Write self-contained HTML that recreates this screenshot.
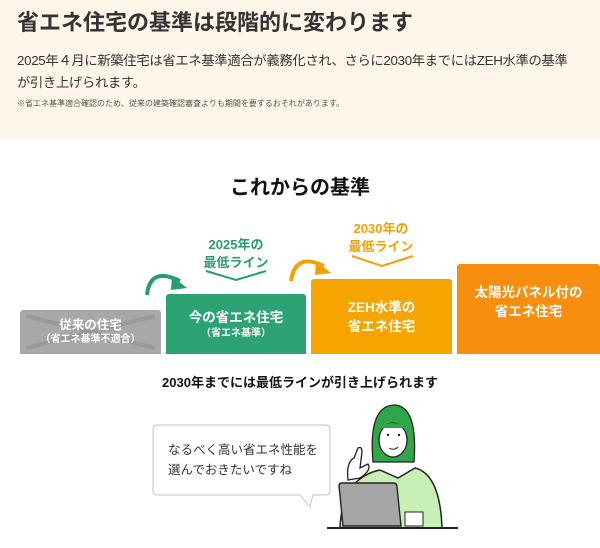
<!DOCTYPE html>
<html><head><meta charset="utf-8"><style>
*{margin:0;padding:0;box-sizing:border-box}
body{width:600px;height:548px;position:relative;overflow:hidden;background:#fff;font-family:"Liberation Sans","Noto Sans CJK JP",sans-serif;color:#222}
.a{position:absolute;white-space:nowrap}
.top{position:absolute;left:0;top:0;width:600px;height:140px;background:#fff6ea}
.box{position:absolute;color:#fff;font-weight:bold;text-align:center;display:flex;flex-direction:column;justify-content:center;align-items:center;border-radius:3px 3px 0 0;font-size:13.5px;line-height:19px}
.box small{font-size:10px;line-height:14px}
.lbl{position:absolute;font-weight:bold;font-size:13px;line-height:18px;text-align:center}
</style></head><body>
<div class="top"></div>
<div class="a" style="left:17px;top:5px;font-size:22px;font-weight:bold;color:#333">省エネ住宅の基準は段階的に変わります</div>
<div class="a" style="left:17px;top:50px;font-size:13.3px;line-height:22px;color:#333;letter-spacing:-0.3px">2025年４月に新築住宅は省エネ基準適合が義務化され、さらに2030年までにはZEH水準の基準<br>が引き上げられます。</div>
<div class="a" style="left:17px;top:98px;font-size:8px;color:#555">※省エネ基準適合確認のため、従来の建築確認審査よりも期間を要するおそれがあります。</div>
<div class="a" style="left:0;width:600px;text-align:center;top:171px;font-size:20px;font-weight:bold;color:#111">これからの基準</div>

<div class="lbl" style="left:196px;top:236px;width:80px;color:#2a9d6e">2025年の<br>最低ライン</div>
<div class="lbl" style="left:341px;top:220px;width:80px;color:#f2a100">2030年の<br>最低ライン</div>

<svg class="a" style="left:0;top:0" width="600" height="548">
<polyline points="206,271 236,280 266,271" fill="none" stroke="#2a9d6e" stroke-width="2"/>
<polyline points="352,256 382,266 413,256" fill="none" stroke="#f2a100" stroke-width="2"/>
<path d="M147,295 Q150,266 180,281" fill="none" stroke="#2a9d6e" stroke-width="4"/>
<polygon points="187,288 172,276 171,290" fill="#2a9d6e"/>
<path d="M291,281 Q295,252 324,266" fill="none" stroke="#f2a100" stroke-width="4"/>
<polygon points="331,273 316,261 315,275" fill="#f2a100"/>
</svg>

<div class="box" style="left:20px;top:310px;width:141px;height:44px;background:#a8a8a8;font-size:12.5px;line-height:16px">
<svg class="a" style="left:0;top:0" width="141" height="44"><line x1="6" y1="6" x2="135" y2="38" stroke="#999" stroke-width="4"/><line x1="6" y1="38" x2="135" y2="6" stroke="#999" stroke-width="4"/></svg>
<span style="position:relative">従来の住宅</span><small style="position:relative">（省エネ基準不適合）</small></div>
<div class="box" style="left:166px;top:294px;width:140px;height:60px;background:#2ba374">今の省エネ住宅<small>（省エネ基準）</small></div>
<div class="box" style="left:311px;top:279px;width:141px;height:75px;background:#f5a400">ZEH水準の<br>省エネ住宅</div>
<div class="box" style="left:457px;top:264px;width:143px;height:90px;background:#f88d0e;padding-bottom:14px">太陽光パネル付の<br>省エネ住宅</div>

<div class="a" style="left:0;width:600px;text-align:center;top:372px;font-size:13px;font-weight:bold;color:#111">2030年までには最低ラインが引き上げられます</div>

<svg class="a" style="left:0;top:0" width="600" height="548">
<path d="M158,425 H325 Q330,425 330,430 V490 Q330,495 325,495 H313 L310,507 L300,495 H158 Q153,495 153,490 V430 Q153,425 158,425 Z" fill="#fff" stroke="#ccc" stroke-width="1.2"/>
<!-- body -->
<path d="M340,528 Q342,478 380,470 L398,478 L415,468 Q440,474 442,528 Z" fill="#c9f0b4" stroke="#222" stroke-width="1.5"/>
<!-- hair -->
<path d="M373,462 Q368,405 395,405 Q418,407 414,462 Z" fill="#2fa64a" stroke="#222" stroke-width="1.3"/>
<ellipse cx="393" cy="440" rx="14" ry="17" fill="#fff" stroke="#222" stroke-width="1.3"/>
<path d="M379,428 Q392,418 408,428" fill="#2fa64a"/>
<circle cx="388" cy="435" r="1.2" fill="#222"/><circle cx="399" cy="435" r="1.2" fill="#222"/>
<path d="M389,448 Q394,451 398,447" fill="none" stroke="#222"/>
<!-- hand -->
<path d="M348,480 Q346,462 354,458 L358,448 Q362,446 362,452 L360,468 L368,464 Q372,470 360,478 Z" fill="#fff" stroke="#222" stroke-width="1.3"/>
<!-- laptop -->
<path d="M339,486 Q339,483 342,483 H393 Q397,483 397,487 L401,526 H343 Z" fill="#a5a5a5" stroke="#222" stroke-width="1.4"/>
<rect x="405" y="512" width="18" height="14" fill="#fff" stroke="#222"/>
<line x1="327" y1="528" x2="458" y2="528" stroke="#222" stroke-width="2"/>
</svg>
<div class="a" style="left:168px;top:440px;font-size:12.5px;line-height:20px;color:#333">なるべく高い省エネ性能を<br>選んでおきたいですね</div>
</body></html>
